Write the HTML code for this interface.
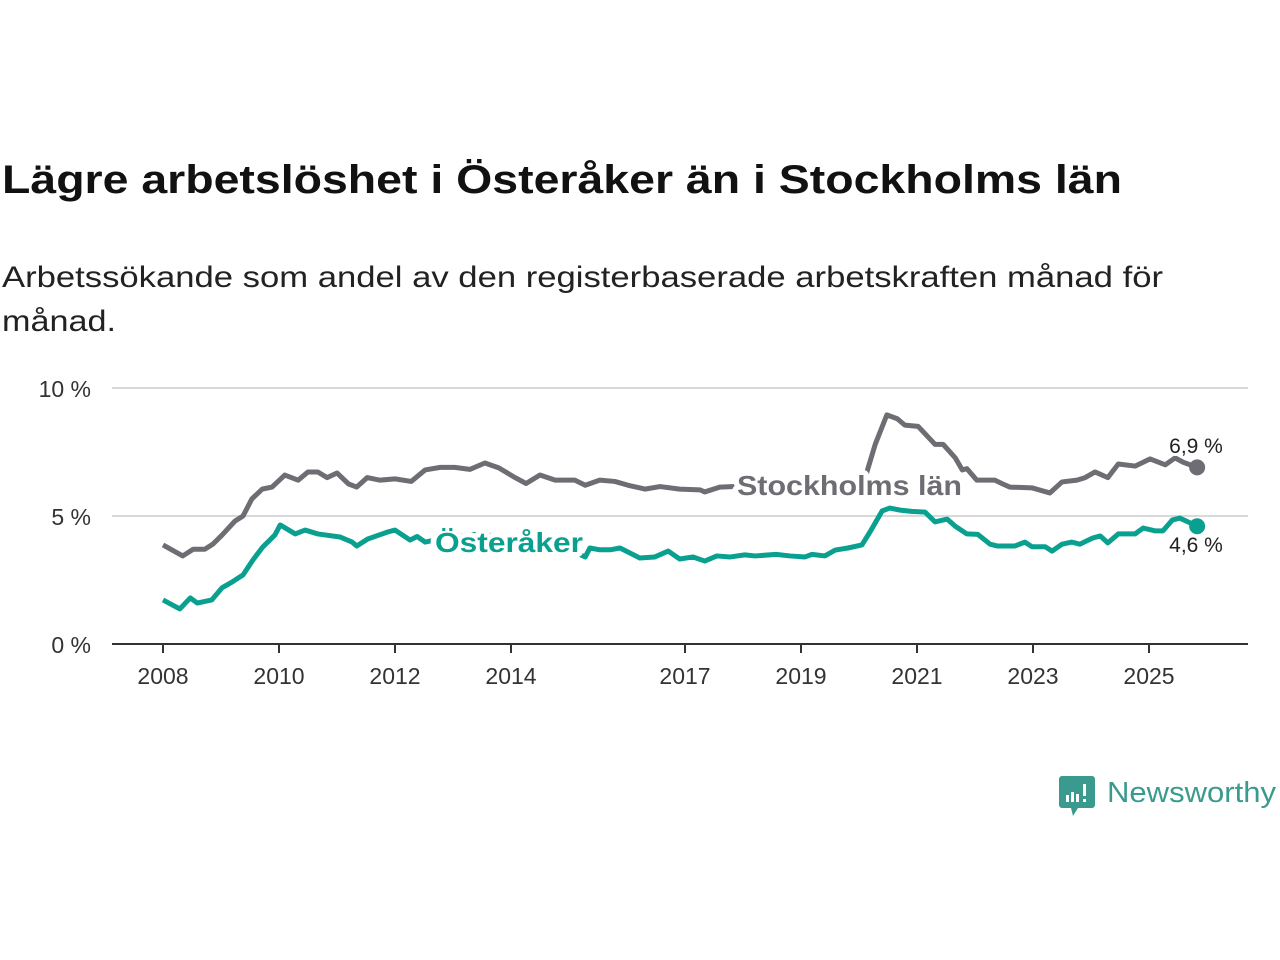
<!DOCTYPE html>
<html><head><meta charset="utf-8"><style>
html,body{margin:0;padding:0;background:#fff;}
svg{display:block;font-family:"Liberation Sans","DejaVu Sans",sans-serif;}
</style></head><body>
<svg id="chart" width="1280" height="960" viewBox="0 0 1280 960">
<text x="2" y="193" font-size="40" font-weight="bold" fill="#111" textLength="1120" lengthAdjust="spacingAndGlyphs">Lägre arbetslöshet i Österåker än i Stockholms län</text>
<text x="2" y="287" font-size="30" fill="#222" textLength="1161" lengthAdjust="spacingAndGlyphs">Arbetssökande som andel av den registerbaserade arbetskraften månad för</text>
<text x="2" y="331" font-size="30" fill="#222" textLength="114" lengthAdjust="spacingAndGlyphs">månad.</text>
<g id="grid"></g>
<g id="series"></g>
<g id="labels"></g>
<g>
<path d="M1062 776 h30 a3 3 0 0 1 3 3 v26 a3 3 0 0 1 -3 3 h-14 l-5 8 l-2 -8 h-9 a3 3 0 0 1 -3 -3 v-26 a3 3 0 0 1 3 -3z" fill="#3a9a8e"/>
<rect x="1066" y="795" width="3" height="7" fill="#fff"/><rect x="1071" y="792" width="3" height="10" fill="#fff"/><rect x="1076" y="794" width="3" height="8" fill="#fff"/><rect x="1083" y="784" width="3" height="12" fill="#fff"/><rect x="1083" y="799" width="3" height="3" fill="#fff"/>
<text x="1107" y="802" font-size="29" fill="#3a9a8e" textLength="169" lengthAdjust="spacingAndGlyphs">Newsworthy</text>
</g>
</svg>
<script>
const yTicks=[0,5,10];
const yTickLabels=["0 %","5 %","10 %"];
const xTicks=[2008,2010,2012,2014,2017,2019,2021,2023,2025];
const stockDates=[2008.0,2008.34,2008.52,2008.72,2008.86,2009.02,2009.24,2009.38,2009.53,2009.71,2009.88,2010.1,2010.33,2010.5,2010.67,2010.83,2011.0,2011.2,2011.34,2011.52,2011.74,2012.0,2012.28,2012.52,2012.78,2013.03,2013.29,2013.55,2013.79,2014.07,2014.26,2014.5,2014.76,2015.1,2015.28,2015.53,2015.79,2016.02,2016.31,2016.57,2016.91,2017.26,2017.34,2017.6,2017.86,2018.98,2019.5,2020.05,2020.16,2020.28,2020.48,2020.66,2020.79,2021.02,2021.31,2021.45,2021.66,2021.78,2021.86,2022.03,2022.34,2022.48,2022.6,2022.98,2023.29,2023.5,2023.76,2023.9,2024.07,2024.29,2024.47,2024.76,2025.02,2025.28,2025.45,2025.59,2025.83];
const stockValues=[3.87,3.44,3.7,3.7,3.9,4.26,4.8,5.0,5.66,6.05,6.13,6.6,6.4,6.72,6.72,6.5,6.68,6.25,6.13,6.5,6.4,6.45,6.35,6.8,6.9,6.9,6.82,7.07,6.88,6.5,6.27,6.6,6.4,6.4,6.2,6.4,6.35,6.2,6.05,6.15,6.05,6.02,5.94,6.13,6.15,6.1,6.0,6.05,6.9,7.8,8.95,8.8,8.55,8.5,7.8,7.8,7.27,6.8,6.85,6.4,6.4,6.25,6.13,6.1,5.9,6.33,6.4,6.5,6.72,6.5,7.03,6.95,7.23,7.0,7.27,7.1,6.9];
const ostDates=[2008.0,2008.29,2008.47,2008.59,2008.84,2009.02,2009.19,2009.38,2009.55,2009.72,2009.93,2010.02,2010.28,2010.45,2010.67,2011.05,2011.26,2011.34,2011.53,2011.88,2012.0,2012.26,2012.38,2012.52,2013.0,2013.5,2014.0,2014.5,2015.0,2015.28,2015.36,2015.53,2015.71,2015.88,2016.22,2016.48,2016.71,2016.91,2017.14,2017.34,2017.55,2017.78,2018.03,2018.21,2018.57,2018.81,2019.07,2019.19,2019.41,2019.59,2019.81,2020.05,2020.19,2020.4,2020.53,2020.71,2020.91,2021.14,2021.31,2021.52,2021.66,2021.86,2022.05,2022.26,2022.38,2022.69,2022.86,2022.98,2023.21,2023.33,2023.5,2023.67,2023.81,2024.03,2024.16,2024.29,2024.47,2024.76,2024.9,2025.1,2025.24,2025.4,2025.53,2025.71,2025.83];
const ostValues=[1.72,1.37,1.8,1.6,1.72,2.2,2.42,2.7,3.28,3.79,4.26,4.65,4.3,4.45,4.3,4.18,3.98,3.83,4.1,4.38,4.45,4.06,4.2,3.98,4.2,4.3,4.1,3.9,3.7,3.4,3.75,3.68,3.68,3.75,3.36,3.4,3.63,3.32,3.4,3.24,3.44,3.4,3.48,3.44,3.5,3.44,3.4,3.5,3.44,3.67,3.75,3.87,4.38,5.2,5.31,5.23,5.18,5.15,4.77,4.88,4.6,4.3,4.28,3.9,3.83,3.83,3.98,3.8,3.8,3.63,3.9,3.98,3.9,4.14,4.22,3.95,4.3,4.3,4.53,4.42,4.42,4.84,4.92,4.73,4.6];
const NS="http://www.w3.org/2000/svg";
const X=d=>163+(d-2008)*58;
const Y=v=>644-v*25.6;
function mk(tag,attrs,parent){const e=document.createElementNS(NS,tag);for(const k in attrs)e.setAttribute(k,attrs[k]);parent.appendChild(e);return e;}
const grid=document.getElementById('grid');
yTicks.forEach((t,i)=>{
  if(t>0){const l=mk('line',{x1:112,x2:1248,y1:Y(t),y2:Y(t),stroke:'#d9d9d9','stroke-width':2},grid);
  
  }
  const tx=mk('text',{x:91,y:Y(t)+9,'font-size':23,fill:'#333','text-anchor':'end'},grid);
  tx.textContent=yTickLabels[i];
  
  
});
const ax=mk('line',{x1:112,x2:1248,y1:Y(0),y2:Y(0),stroke:'#333','stroke-width':2},grid);


xTicks.forEach(t=>{
  const tk=mk('line',{x1:X(t),x2:X(t),y1:Y(0),y2:Y(0)+9,stroke:'#333','stroke-width':2},grid);
  
  
  const tx=mk('text',{x:X(t),y:684,'font-size':23,fill:'#333','text-anchor':'middle'},grid);
  tx.textContent=String(t);
  
  
});
const ser=document.getElementById('series');
function line(ds,vs,color,name){
  const p=mk('polyline',{points:ds.map((d,i)=>X(d)+','+Y(vs[i])).join(' '),fill:'none',stroke:color,'stroke-width':5,'stroke-linejoin':'round'},ser);
  
  
  const n=ds.length-1;
  const c=mk('circle',{cx:X(ds[n]),cy:Y(vs[n]),r:8,fill:color},ser);
  
  
}
line(stockDates,stockValues,'#6e6d73','stockholm-line');
line(ostDates,ostValues,'#0aa08f','osteraker-line');
const lab=document.getElementById('labels');
function label(x,y,txt,color,size,bold,name,anchor,len){
  const t=mk('text',{x:x,y:y,'font-size':size,fill:color,'font-weight':bold?'bold':'normal','text-anchor':anchor||'start',stroke:'#fff','stroke-width':bold?10:6,'paint-order':'stroke','stroke-linejoin':'round'},lab);
  if(len){t.setAttribute('textLength',len);t.setAttribute('lengthAdjust','spacingAndGlyphs');}
  t.textContent=txt;
  
  
}
label(737,495,'Stockholms län','#6e6d73',28,true,'stockholm-label','start',225);
label(435,552,'Österåker','#0aa08f',28,true,'osteraker-label','start',148);
const ls=stockValues.length-1, lo=ostValues.length-1;
label(1196,453,stockValues[ls].toFixed(1).replace('.',',')+' %','#222',21,false,'stockholm-end-value','middle');
label(1196,552,ostValues[lo].toFixed(1).replace('.',',')+' %','#222',21,false,'osteraker-end-value','middle');
</script>
</body></html>
